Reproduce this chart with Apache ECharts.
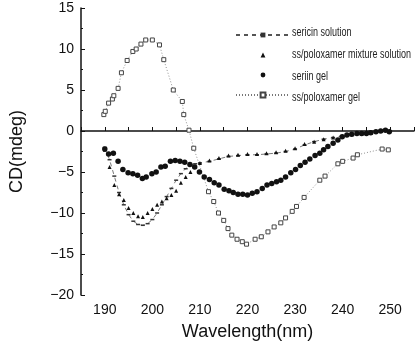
<!DOCTYPE html>
<html><head><meta charset="utf-8">
<script src="https://cdn.jsdelivr.net/npm/echarts@6/dist/echarts.min.js"></script>
<style>html,body{margin:0;padding:0;background:#fff}#c{width:417px;height:352px}</style>
</head><body><div id="c"></div>
<script>
const seriesNames = ['sericin solution','ss/poloxamer mixture solution','seriin gel','ss/poloxamer gel'];

const solWl  = [190,191,192,193,194,195,196,197,198,199,200,201,202,203,204,205,206,207,208,209,210,212,214,216,218,220,222,224,226,228,230,232,234,236,238,240,242,244,246,248,250];
const solCd  = [-2,-3.5,-5.5,-7.5,-9,-10.2,-11,-11.4,-11.5,-11.3,-10.8,-10,-9,-8,-7,-6,-5.2,-4.6,-4.2,-4,-3.9,-3.7,-3.4,-3.1,-3,-2.9,-2.9,-2.8,-2.7,-2.5,-2.2,-1.7,-1.3,-1,-0.8,-0.6,-0.5,-0.3,-0.2,-0.1,0];

const mixWl  = [190,191,192,193,194,195,196,197,198,199,200,201,202,203,204,205,206,207,208,209,210,212,214,216,218,220,222,224,226,228,230,232,234,236,238,240,242,244,246,248,250];
const mixCd  = [-2.3,-4.4,-6.6,-7.7,-8.4,-9.4,-10,-10.4,-10.5,-10,-9.5,-9,-8.6,-8.2,-7.8,-7.3,-6.3,-5.6,-5,-4.3,-3.9,-3.6,-3.3,-3,-2.9,-2.8,-2.8,-2.7,-2.6,-2.4,-2.1,-1.6,-1.3,-1,-0.8,-0.6,-0.4,-0.3,-0.2,0,0.1];

const gelWl  = [190,190.8,191.8,192.8,193.8,194.9,195.9,196.9,197.9,198.7,199.9,200.8,201.8,202.7,203.8,204.8,205.8,206.8,207.9,208.9,209.9,210.9,212,213,214,215.1,216.1,217,218,219,220,221,222,223.1,224.1,225.1,226.1,227,228,229.1,230.1,231.1,232.1,233.1,234.2,235.2,236,236.9,238,239,239.9,240.9,241.9,243,244,245,245.9,247,248,249,249.8];
const gelCd  = [-2.2,-2.8,-2.7,-3.7,-4.7,-5.1,-5.2,-5.4,-5.8,-5.6,-5.2,-5,-4.4,-4.3,-3.7,-3.6,-3.7,-3.8,-4.1,-4.4,-5,-5.6,-5.9,-6.3,-6.6,-7.1,-7.3,-7.5,-7.7,-7.7,-7.8,-7.6,-7.4,-7,-6.6,-6.4,-6.2,-6,-5.6,-5.1,-4.7,-4.2,-3.8,-3.4,-3,-2.7,-2.3,-1.9,-1.5,-1.1,-0.7,-0.5,-0.4,-0.3,-0.3,-0.3,-0.2,-0.1,0,0.1,-0.1];

const pgWl   = [189.8,190.1,190.8,191.6,191.9,192.8,193.5,194.7,195.9,196.6,197.6,198.6,200,201.5,202.4,204.4,206.3,206.6,207.7,208.7,211.8,212.9,213.9,215,215.9,216.7,217.8,218.9,219.8,221.6,222.9,224.3,225.6,227,228,229.4,230.3,231.9,235.2,236.3,239,240,242.2,243.1,248.3,249.6];
const pgCd   = [2,2.4,3.4,3.9,4.3,5.2,7.1,8.6,9.7,10,10.6,11.1,11.1,10.5,8.7,5,3.6,2,0.1,-2.1,-7.4,-8.6,-10,-10.9,-11.9,-12.7,-13.2,-13.5,-13.8,-13.2,-12.9,-12.3,-11.7,-11.2,-10.6,-9.8,-9.2,-8.1,-6,-5.5,-4,-3.7,-3.3,-2.9,-2.2,-2.3];

const xTicks = [190,200,210,220,230,240,250];
const yTicks = [15,10,5,0,-5,-10,-15,-20];

const zip = (a,b)=>a.map((v,i)=>[v,b[i]]);
const fmtY = v => v < 0 ? '\u2212' + Math.abs(v) : String(v);

const legendRowY = [33,55,77,98];

const chart = echarts.init(document.getElementById('c'), null, {renderer:'canvas'});
chart.setOption({
  animation:false,
  backgroundColor:'#fff',
  textStyle:{fontFamily:'Liberation Sans, Arial, sans-serif'},
  grid:{left:80, top:8, right:-3, bottom:57, containLabel:false},
  legend:{
    orient:'vertical', left:230, top:25, itemWidth:54, itemHeight:6, itemGap:10,
    formatter:()=>' ',
    textStyle:{fontSize:10, color:'#222'},
    data:seriesNames
  },
  graphic: seriesNames.map((n,i)=>({
    type:'text', x:292, y:legendRowY[i], scaleX:0.75, silent:true,
    style:{text:n, fill:'#222', font:'12px "Liberation Sans", Arial, sans-serif', textVerticalAlign:'middle', verticalAlign:'middle'}
  })),
  xAxis:{
    type:'value', min:185, max:255, interval:5,
    name:'Wavelength(nm)', nameLocation:'middle', nameGap:28,
    nameTextStyle:{fontSize:18, color:'#111', fontFamily:'Liberation Sans, Arial'},
    axisLine:{lineStyle:{color:'#111', width:1.5}},
    axisTick:{inside:true, length:4, lineStyle:{color:'#111'}},
    splitLine:{show:false},
    axisLabel:{color:'#111', fontSize:14, margin:8,
      formatter:v => xTicks.includes(v) ? String(v) : ''}
  },
  yAxis:{
    type:'value', min:-20, max:15, interval:5,
    name:'CD(mdeg)', nameLocation:'middle', nameGap:55, nameRotate:90,
    nameTextStyle:{fontSize:18, color:'#111', fontFamily:'Liberation Sans, Arial'},
    axisLine:{show:true, lineStyle:{color:'#111', width:1.5}},
    axisTick:{show:true, inside:true, length:4, lineStyle:{color:'#111'}},
    minorTick:{show:true, splitNumber:2, length:2, lineStyle:{color:'#111'}},
    splitLine:{show:false},
    axisLabel:{color:'#111', fontSize:14, margin:7,
      formatter:v => yTicks.includes(v) ? fmtY(v) : ''}
  },
  series:[
    {name:seriesNames[0], type:'line', data:zip(solWl,solCd),
     symbol:'rect', symbolSize:[4,1.5], itemStyle:{color:'#333'},
     lineStyle:{color:'#555', width:0.8, type:[4,4]}},
    {name:seriesNames[1], type:'line', data:zip(mixWl,mixCd),
     symbol:'triangle', symbolSize:4, itemStyle:{color:'#111'},
     lineStyle:{opacity:0, width:0}},
    {name:seriesNames[2], type:'line', data:zip(gelWl,gelCd),
     symbol:'circle', symbolSize:5.5, itemStyle:{color:'#111'},
     lineStyle:{opacity:0, width:0}},
    {name:seriesNames[3], type:'line', data:zip(pgWl,pgCd),
     symbol:'rect', symbolSize:4, itemStyle:{color:'#fff', borderColor:'#444', borderWidth:1},
     lineStyle:{color:'#777', width:0.8, type:[1,2]}}
  ]
});
</script></body></html>
